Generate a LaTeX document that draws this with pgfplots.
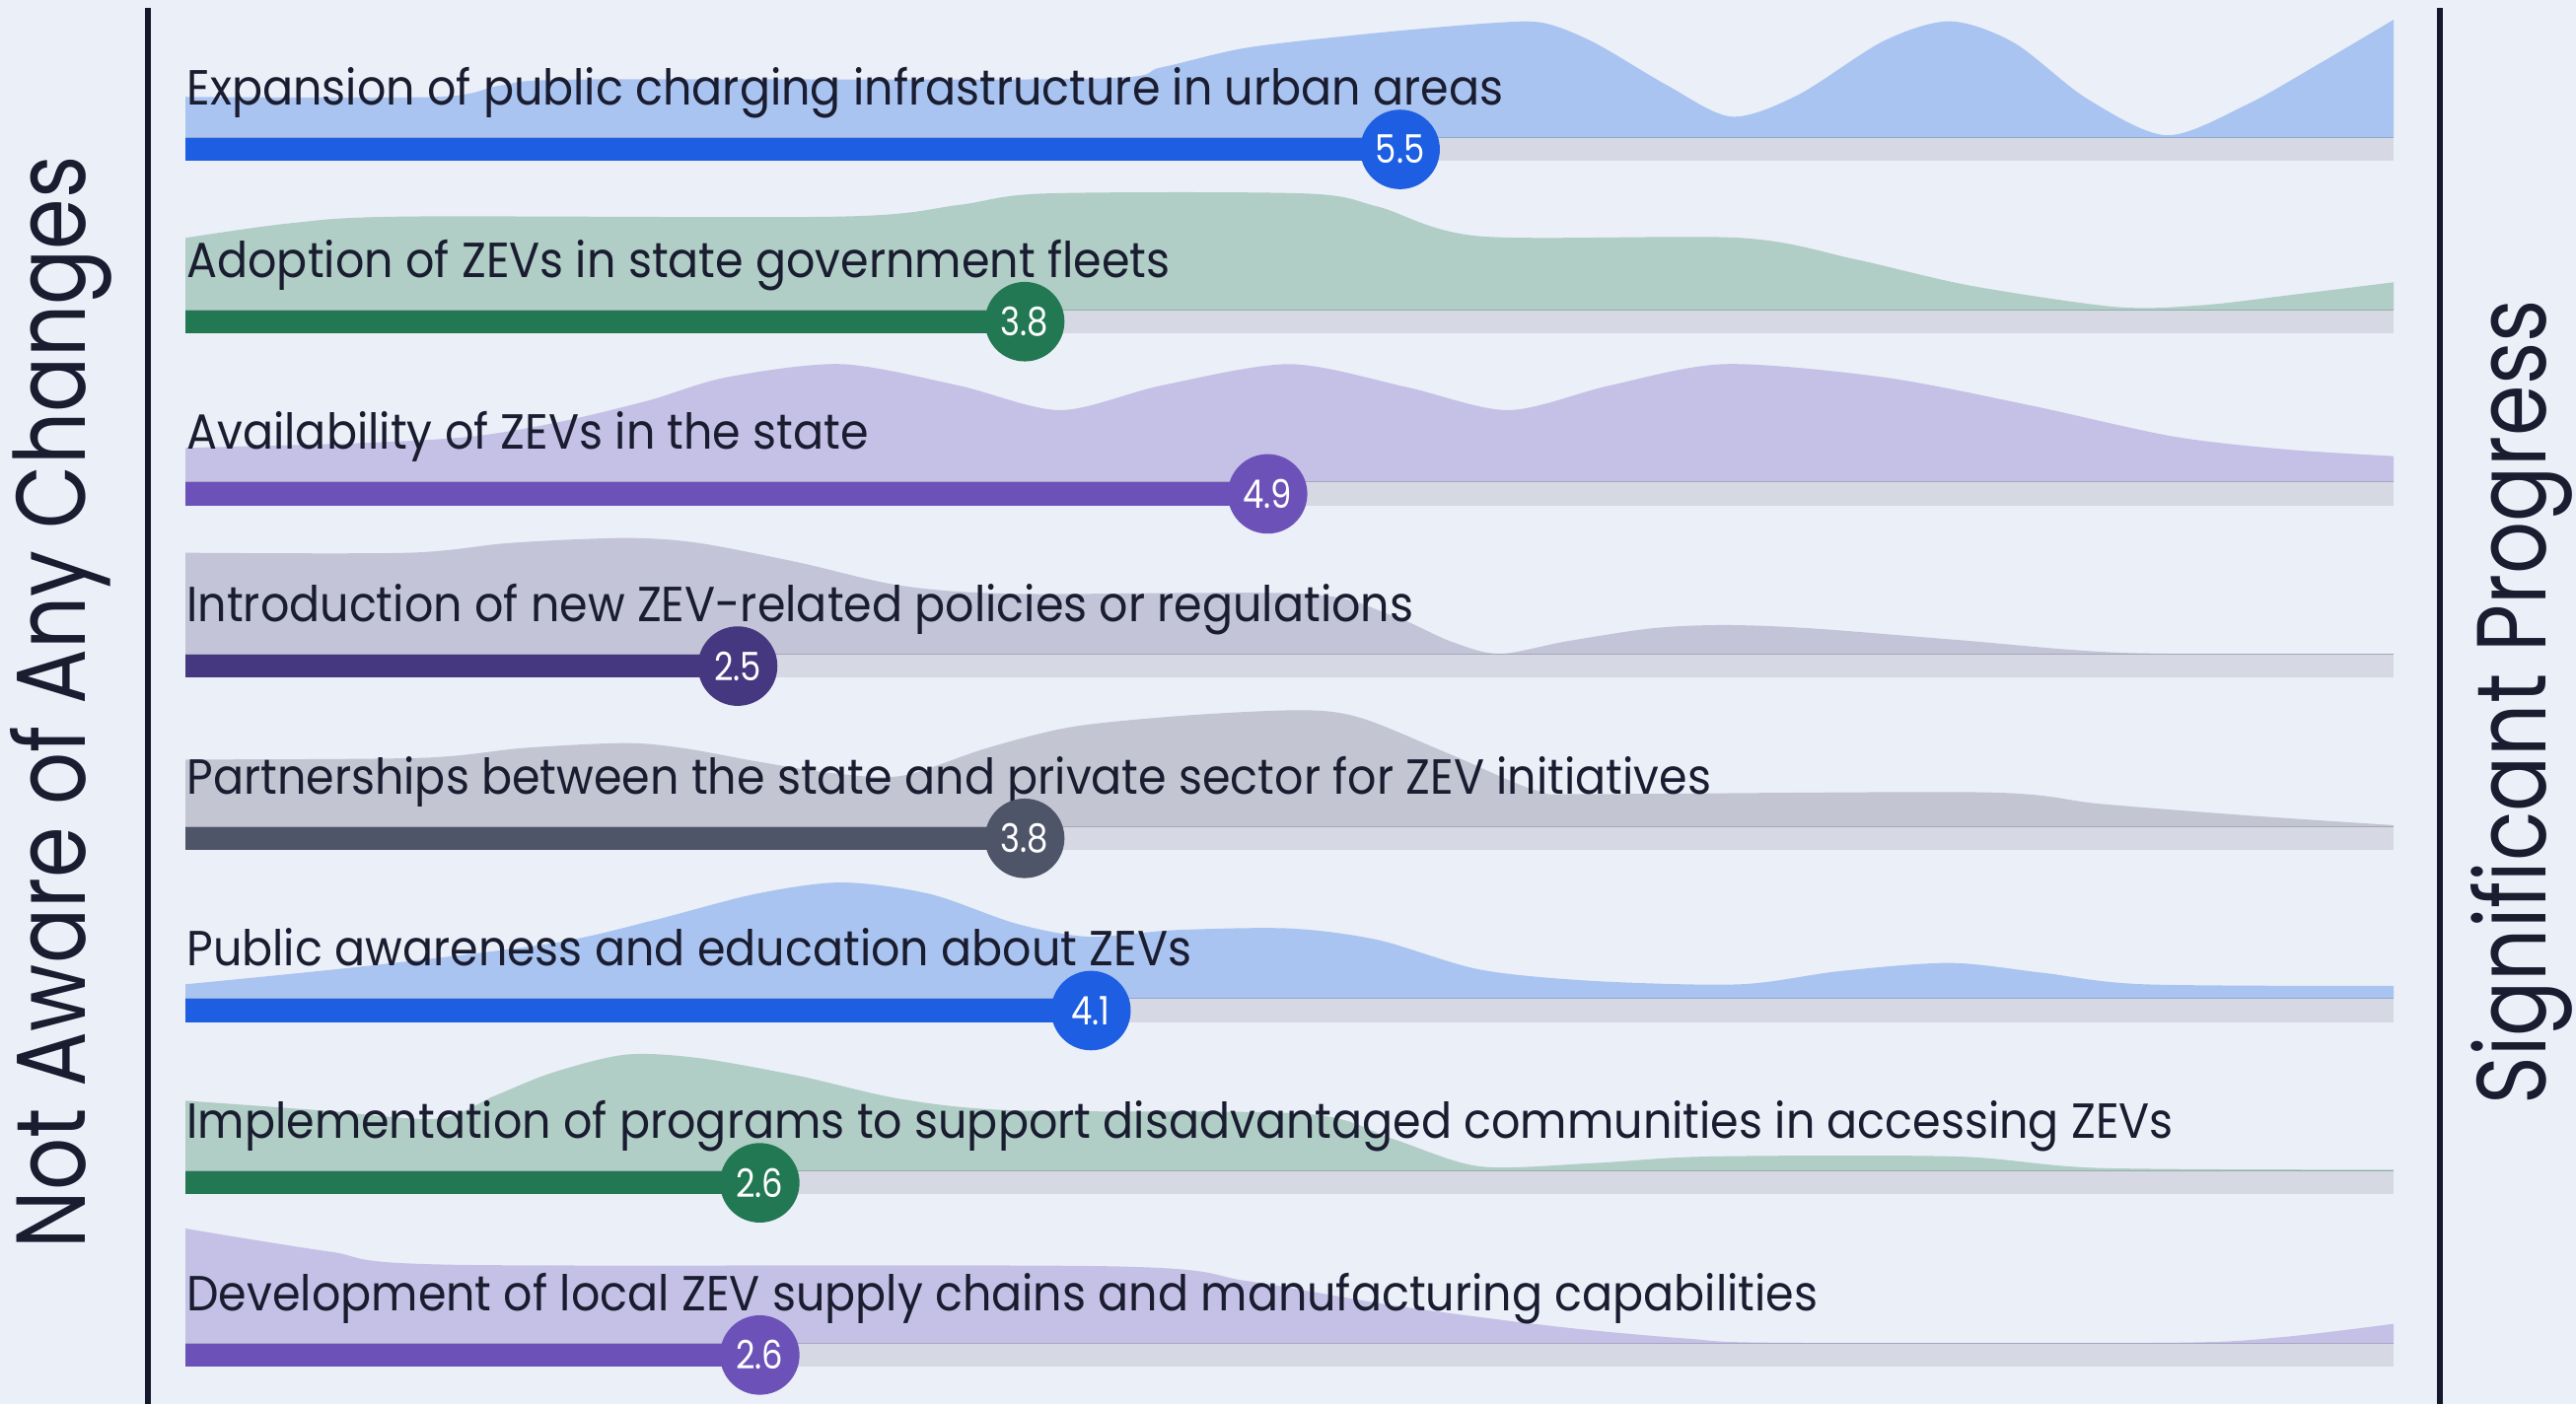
\documentclass[border=0pt]{standalone}
\usepackage{pgfplots}
\pgfplotsset{compat=1.18}
\usepackage{pgfplotstable}
\usepackage{fontspec}
\setmainfont{Poppins}[FakeStretch=0.92]
\newfontfamily\sidefont{Poppins}[FakeStretch=0.835]
\newfontfamily\numfont{Poppins}[FakeStretch=0.85]
\definecolor{bg}{RGB}{235,239,248}
\definecolor{txt}{RGB}{26,29,48}
\definecolor{axl}{RGB}{20,24,45}
\definecolor{track}{RGB}{214,217,227}
\definecolor{bluebar}{RGB}{29,94,226}
\definecolor{bluefill}{RGB}{170,196,241}
\definecolor{greenbar}{RGB}{34,120,82}
\definecolor{greenfill}{RGB}{176,205,198}
\definecolor{purplebar}{RGB}{108,82,184}
\definecolor{purplefill}{RGB}{197,193,230}
\definecolor{indigobar}{RGB}{70,56,128}
\definecolor{indigofill}{RGB}{196,196,216}
\definecolor{slatebar}{RGB}{79,85,104}
\definecolor{slatefill}{RGB}{195,198,210}

\pgfplotstableread{
v h
0 25
1.14 25
1.43 32
1.8 35.6
4.09 36
4.42 43
4.81 55
5.4 64
5.92 70
6.15 70
6.38 58
6.71 32
7.0 13
7.3 26
7.69 59
7.99 71
8.28 58
8.61 24
8.97 1.6
9.33 20
9.66 45
10 72
}\rowA
\pgfplotstableread{
v h
0 44
0.48 53
1.0 57
2.97 57
3.5 64
3.89 71
5.07 71
5.4 63
5.86 45
7.04 44
7.56 31
8.08 15
8.74 2
9.13 3
9.52 9
10 17
}\rowB
\pgfplotstableread{
v h
0 21
0.8 24
1.3 28
1.7 37
2.1 50
2.45 64
2.97 72
3.5 59
3.96 44
4.42 59
5.0 72
5.53 58
5.99 44
6.45 59
6.97 72
7.69 64
8.35 47
9.0 28
9.52 20
10 16
}\rowC
\pgfplotstableread{
v h
0 62
1.01 62
1.47 68
1.99 71
2.32 68
2.78 56
3.24 42
3.76 37
5.07 37
5.46 24
5.73 8
5.95 0.5
6.25 8
6.64 16
6.97 18
7.36 16
8.02 9
8.8 1
10 0.5
}\rowD
\pgfplotstableread{
v h
0 41
1.07 42
1.53 48
1.99 51
2.25 48
2.58 40
2.91 33
3.24 31
3.63 48
4.02 61
4.55 68
5.07 71
5.33 66
5.73 44
6.12 22
6.38 20
8.15 21
8.67 14
9.33 7
10 1
}\rowE
\pgfplotstableread{
v h
0 9
0.81 20
1.66 34
2.12 48
2.58 64
2.97 71
3.37 64
3.76 46
4.09 38
4.48 42
5.0 43
5.4 36
5.86 18
6.38 11
7.04 9
7.49 17
7.99 22
8.41 16
8.87 9
10 8
}\rowF
\pgfplotstableread{
v h
0 43
0.62 37
1.14 32
1.4 46
1.66 60
1.99 71
2.32 69
2.78 58
3.24 44
3.76 37
5.07 35
5.46 20
5.86 3
6.38 5
6.9 9
8.02 9
8.67 2
10 1
}\rowG
\pgfplotstableread{
v h
0 70
0.65 56
1.2 48
4.2 47
4.81 38
5.48 23
6.23 10
6.8 3
7.2 0.5
9.0 0.5
9.5 4
10 12
}\rowH

% #1 table, #2 base, #3 fill colour
\newcommand{\ridgedens}[3]{%
  \addplot[fill=#3, draw=none, smooth, tension=0.5] table[x=v, y expr=\thisrow{h}+#2] {#1} -- (axis cs:10,#2) -- (axis cs:0,#2) -- cycle;
  \addplot[draw=#3!85!black, line width=0.12mm] coordinates {(0,#2) (10,#2)};
}
% #1 centre, #2 value, #3 bar colour
\newcommand{\ridgebar}[3]{%
  \addplot[draw=track, line width=1.4mm] coordinates {(0,#1) (10,#1)};
  \addplot[draw=#3, line width=1.4mm] coordinates {(0,#1) (#2,#1)};
}
\newcommand{\ridgedot}[3]{%
  \addplot[only marks, mark=*, mark size=2.35mm, color=#3, point meta=explicit symbolic,
    nodes near coords, every node near coord/.append style={anchor=center, text=white, font=\numfont\fontsize{6.8pt}{8pt}\selectfont}]
    coordinates {(#2,#1) [#2]};
}
\newcommand{\lbl}[2]{%
  \node[anchor=base west, text=txt, font=\fontsize{8.54pt}{10pt}\selectfont, inner sep=0pt] at (axis cs:0,#1) {#2};
}

\begin{document}
\begin{tikzpicture}
\begin{axis}[
  width=156.8mm, height=85.5mm, scale only axis,
  xmin=-0.8408, xmax=10.8259, ymin=0, ymax=855,
  axis lines=none, ticks=none, clip=false,
]
\fill[bg] (rel axis cs:0,0) rectangle (rel axis cs:1,1);
\ridgedens{\rowA}{771.00}{bluefill}
\ridgedens{\rowB}{666.14}{greenfill}
\ridgedens{\rowC}{561.28}{purplefill}
\ridgedens{\rowD}{456.42}{indigofill}
\ridgedens{\rowE}{351.56}{slatefill}
\ridgedens{\rowF}{246.70}{bluefill}
\ridgedens{\rowG}{141.84}{greenfill}
\ridgedens{\rowH}{36.98}{purplefill}

\ridgebar{764.00}{5.5}{bluebar}
\ridgebar{659.14}{3.8}{greenbar}
\ridgebar{554.28}{4.9}{purplebar}
\ridgebar{449.42}{2.5}{indigobar}
\ridgebar{344.56}{3.8}{slatebar}
\ridgebar{239.70}{4.1}{bluebar}
\ridgebar{134.84}{2.6}{greenbar}
\ridgebar{29.98}{2.6}{purplebar}

\lbl{791.00}{Expansion of public charging infrastructure in urban areas}
\lbl{686.14}{Adoption of ZEVs in state government fleets}
\lbl{581.28}{Availability of ZEVs in the state}
\lbl{476.42}{Introduction of new ZEV-related policies or regulations}
\lbl{371.56}{Partnerships between the state and private sector for ZEV initiatives}
\lbl{266.70}{Public awareness and education about ZEVs}
\lbl{161.84}{Implementation of programs to support disadvantaged communities in accessing ZEVs}
\lbl{56.98}{Development of local ZEV supply chains and manufacturing capabilities}

\ridgedot{764.00}{5.5}{bluebar}
\ridgedot{659.14}{3.8}{greenbar}
\ridgedot{554.28}{4.9}{purplebar}
\ridgedot{449.42}{2.5}{indigobar}
\ridgedot{344.56}{3.8}{slatebar}
\ridgedot{239.70}{4.1}{bluebar}
\ridgedot{134.84}{2.6}{greenbar}
\ridgedot{29.98}{2.6}{purplebar}

\addplot[draw=axl, line width=0.34mm] coordinates {(-0.1711,0) (-0.1711,850)};
\addplot[draw=axl, line width=0.34mm] coordinates {(10.2083,0) (10.2083,850)};

\node[rotate=90, anchor=center, inner sep=0pt, text=txt, font=\sidefont\fontsize{17pt}{20pt}\selectfont] at (axis cs:-0.5655,427.5) {Not Aware of Any Changes};
\node[rotate=90, anchor=center, inner sep=0pt, text=txt, font=\sidefont\fontsize{17pt}{20pt}\selectfont] at (axis cs:10.580,427.5) {Significant Progress};
\end{axis}
\pgfresetboundingbox
\useasboundingbox (current axis.south west) rectangle (current axis.north east);
\end{tikzpicture}
\end{document}
